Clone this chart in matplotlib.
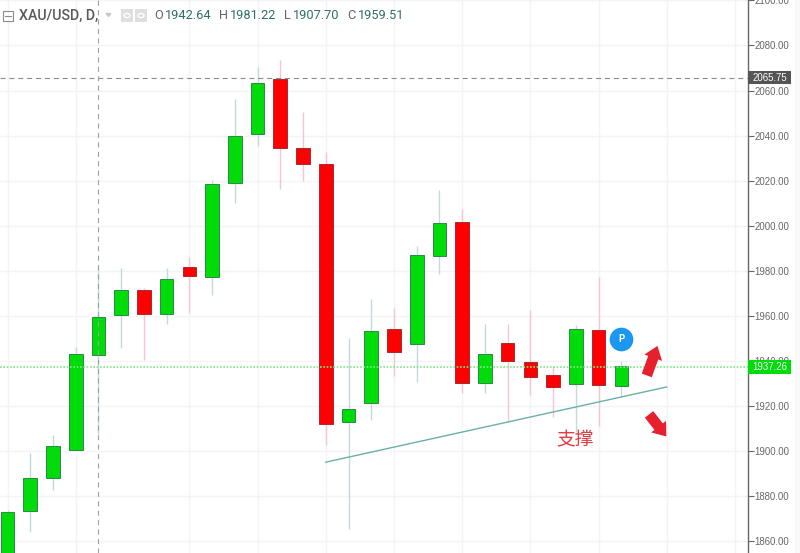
import matplotlib
matplotlib.use("Agg")
import matplotlib.pyplot as plt
from matplotlib.patches import Rectangle, Circle

plt.rcParams['font.family'] = ['Roboto', 'Noto Sans CJK SC', 'DejaVu Sans']

# ---- data (prices) ----
opens = [1847.0, 1873.3, 1888.0, 1900.4, 1942.64, 1960.3, 1971.4, 1960.8, 1981.6, 1977.4,
         2018.9, 2040.7, 2065.1, 2034.5, 2027.4, 1912.8, 1921.3, 1954.1, 1947.5, 1986.5,
         2001.6, 1930.1, 1947.9, 1939.5, 1933.7, 1929.7, 1953.7, 1928.8]
closes = [1872.9, 1888.0, 1902.2, 1943.0, 1959.51, 1971.4, 1960.8, 1976.3, 1977.6, 2018.5,
          2039.8, 2063.3, 2034.5, 2027.4, 1911.9, 1918.6, 1953.2, 1943.9, 1987.0, 2001.2,
          1930.1, 1943.0, 1939.9, 1932.8, 1928.4, 1954.1, 1929.2, 1937.7]
highs = [1873.8, 1899.1, 1907.1, 1946.1, 1981.22, 1981.2, 1972.3, 1981.2, 1986.1, 2020.3,
         2056.2, 2070.4, 2073.5, 2050.5, 2032.7, 1950.1, 1967.4, 1963.4, 1991.0, 2015.8,
         2007.4, 1956.3, 1956.3, 1962.6, 1937.7, 1955.9, 1977.2, 1939.9]
lows = [1840.0, 1864.0, 1882.6, 1900.4, 1907.70, 1945.7, 1940.4, 1956.3, 1961.2, 1969.2,
        2010.1, 2035.4, 2016.3, 2019.8, 1902.6, 1865.3, 1913.7, 1933.3, 1930.6, 1978.5,
        1925.7, 1925.7, 1912.8, 1924.8, 1915.0, 1908.4, 1911.1, 1923.9]
price_ticks = [1860, 1880, 1900, 1920, 1940, 1960, 1980, 2000, 2020, 2040, 2060, 2080, 2100]
time_grid = [0, 3, 8, 11, 14, 17, 20, 23, 26, 29, 32]
last_price = 1937.26
peak_price = 2065.75
cross_index = 4
trend_x = [14, 29]
trend_y = [1895.0, 1928.4]
legend_ohlc = [("O", "1942.64"), ("H", "1981.22"), ("L", "1907.70"), ("C", "1959.51")]

W, H = 800, 553
GREEN, RED = "#00dc0a", "#ff0000"
GREEN_E, RED_E = "#2a8a45", "#a82a30"
GREEN_W, RED_W = "#c0dade", "#f5c6cc"

fig = plt.figure(figsize=(W / 100, H / 100), dpi=100, facecolor="white")
fig.add_artist(Rectangle((795 / W, 0), 5 / W, 1, transform=fig.transFigure,
                         facecolor="#f9f9f9", edgecolor="none", zorder=-5))
ax = fig.add_axes([0, 0, 747.5 / W, 1])
ax.set_xlim(-0.33, 32.55)
ax.set_ylim(1854.67, 2100.18)
ax.set_facecolor("white")

for s in ("top", "left", "bottom"):
    ax.spines[s].set_visible(False)
ax.spines["right"].set_color("#666666")
ax.spines["right"].set_linewidth(1.0)

ax.yaxis.tick_right()
ax.set_yticks(price_ticks)
ax.set_yticklabels([f"{p:.2f}" for p in price_ticks], fontsize=6.9, color="#666666",
                   family=['Liberation Sans'])
ax.tick_params(axis="y", length=4, width=0.8, color="#666666", pad=1)
ax.set_xticks(time_grid)
ax.tick_params(axis="x", length=0, labelbottom=False)
ax.grid(True, color="#f2f4f6", linewidth=1.0, zorder=0)
ax.set_axisbelow(True)

idx = list(range(len(opens)))
for i, o, c, h, l in zip(idx, opens, closes, highs, lows):
    up = c >= o
    ax.vlines(i, l, h, color=GREEN_W if up else RED_W, linewidth=1.0, zorder=2)
    ax.bar(i, abs(c - o), bottom=min(o, c), width=0.6,
           color=GREEN if up else RED, edgecolor=GREEN_E if up else RED_E,
           linewidth=0.7, zorder=3)

# price lines and crosshair
ax.axhline(peak_price, color="#8a8a8a", linewidth=0.8, dashes=(4.5, 3.5), zorder=4)
ax.axhline(last_price, color="#82e688", linewidth=1.2, dashes=(1, 1), zorder=4)
ax.axvline(cross_index, color="#9aa0a6", linewidth=0.8, dashes=(4.5, 4), zorder=4)

# trend line
ax.plot(trend_x, trend_y, color="#6ab0a8", linewidth=1.0, zorder=5)

# price labels on the scale
trans = ax.get_yaxis_transform()
for price, bg in ((peak_price, "#555555"), (last_price, "#00dc0a")):
    ax.add_patch(Rectangle((1.0, price - 3.0), 43 / 747.5, 6.0, transform=trans,
                           facecolor=bg, edgecolor="none", clip_on=False, zorder=6))
    ax.text(1.0 + 22 / 747.5, price, f"{price:.2f}", transform=trans, color="white",
            fontsize=6.9, ha="center", va="center", family=['Liberation Sans'],
            clip_on=False, zorder=7)

# annotations
ax.text(24.95, 1905.0, "支撑", color="#e23b40", fontsize=13.5, ha="center", va="center",
        family=['Noto Sans CJK SC'], zorder=7)
ax.scatter([27.0], [1949.5], s=290, color="#1a96f3", zorder=7, linewidths=0)
ax.text(27.0, 1949.5, "P", color="white", fontsize=7, fontweight="bold", ha="center",
        va="center", zorder=8)

arrow = dict(arrowstyle="simple,head_width=1.5,head_length=1.0,tail_width=0.85",
             color="#e7202e", linewidth=0, shrinkA=0, shrinkB=0, mutation_scale=9)
ax.annotate("", xy=(28.59, 1946.6), xytext=(28.12, 1933.5), arrowprops=arrow, zorder=7)
ax.annotate("", xy=(28.98, 1906.4), xytext=(28.22, 1916.2), arrowprops=arrow, zorder=7)


# legend row (figure pixel helper)
def px(x, y):
    return x / W, 1 - y / H


def ftext(x, y, s, **kw):
    fx, fy = px(x, y)
    fig.text(fx, fy, s, ha="left", va="center", **kw)


ftext(19, 15.5, "XAU/USD, D,", fontsize=10.2, color="#5a5a5a", fontweight="medium")
fig.add_artist(Rectangle(px(3, 20.5), 9.5 / W, 10 / H, transform=fig.transFigure,
                         facecolor="white", edgecolor="#8a8a8a", linewidth=0.8))
fig.add_artist(plt.Line2D([5 / W, 10.5 / W], [1 - 15.5 / H] * 2, color="#8a8a8a", linewidth=0.8))
fig.add_artist(plt.Polygon([px(106, 13.5), px(111, 13.5), px(108.5, 16.5)],
                           transform=fig.transFigure, color="#c8c8c8"))
for x0 in (121, 135):
    fig.add_artist(Rectangle(px(x0, 21.5), 12 / W, 12 / H, transform=fig.transFigure,
                             facecolor="#dedede", edgecolor="none"))
    fig.add_artist(Circle(px(x0 + 6, 15.5), 3 / W, transform=fig.transFigure,
                          facecolor="none", edgecolor="white", linewidth=1.0))

for (letter, val), lx, vx in zip(legend_ohlc, (154, 219, 284, 347), (165, 230, 293, 358)):
    ftext(lx, 15.5, letter, fontsize=9.2, color="#666666")
    ftext(vx, 15.5, val, fontsize=9.2, color="#2f6f66")

fig.savefig("out.png", dpi=100, facecolor="white")
